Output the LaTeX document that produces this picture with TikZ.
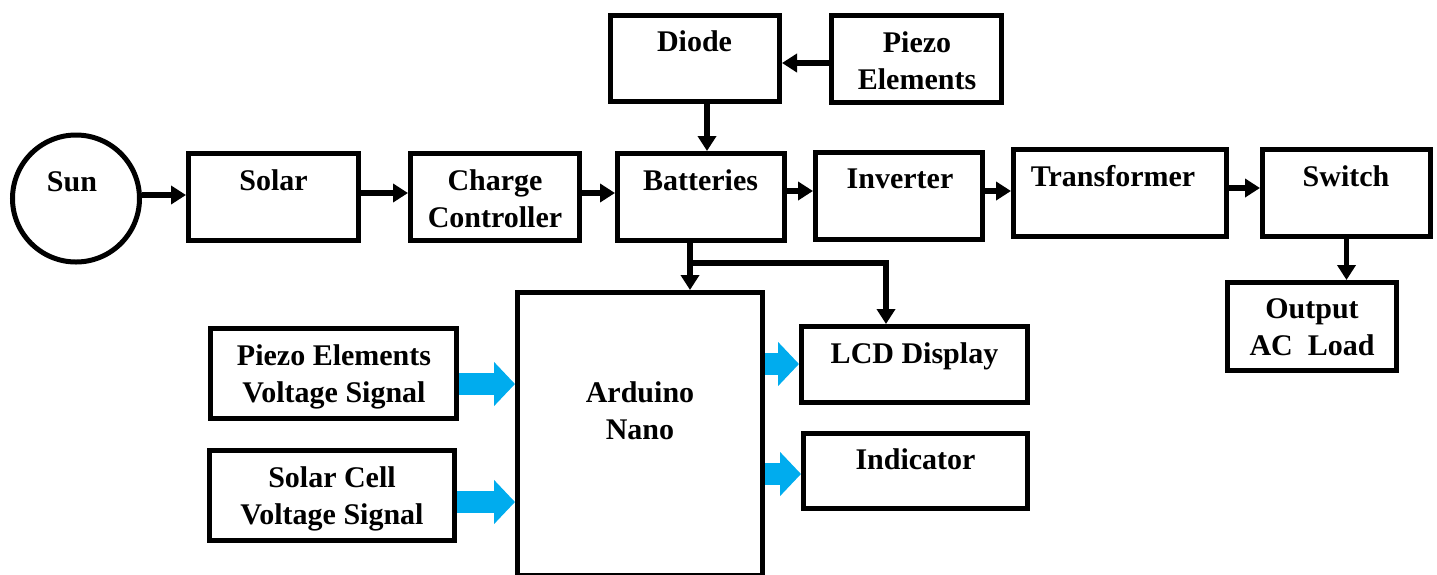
\documentclass[tikz,border=0pt]{standalone}
\usepackage{fontspec}
\setmainfont{Liberation Serif}
\usetikzlibrary{arrows.meta}
\definecolor{arrblue}{RGB}{0,172,238}
\newcommand{\twoline}[2]{\begin{tabular}[t]{@{}c@{}}#1\\#2\end{tabular}}
\begin{document}
\begin{tikzpicture}[x=1pt,y=-1pt,
  font=\fontsize{30}{37}\selectfont\bfseries,
  box/.style={draw, line width=5pt, fill=white, inner sep=0pt},
  sunshape/.style={draw, circle, line width=5pt, fill=white, inner sep=0pt, minimum size=127pt},
  arr/.style={line width=5.5pt, -{Triangle[width=18pt,length=15pt]}},
  barr/.style={draw=arrblue, line width=22pt, -{Triangle[width=43pt,length=21pt]}},
  lbl/.style={anchor=base, inner sep=0pt}]
\useasboundingbox (0,0) rectangle (1437,574);
% blocks
\node[sunshape] (sun) at (76,198.5) {};
\node[box, minimum width=170pt, minimum height=87pt] (solar) at (273.5,197) {};
\node[box, minimum width=169pt, minimum height=87pt] (charge) at (495,197) {};
\node[box, minimum width=167pt, minimum height=87pt] (batt) at (701,197) {};
\node[box, minimum width=169pt, minimum height=86pt] (diode) at (695,58.5) {};
\node[box, minimum width=170pt, minimum height=87pt] (piezo) at (916.5,59) {};
\node[box, minimum width=167pt, minimum height=87pt] (inv) at (899,196) {};
\node[box, minimum width=213pt, minimum height=87pt] (trans) at (1120,193) {};
\node[box, minimum width=168pt, minimum height=87pt] (switch) at (1346.5,193) {};
\node[box, minimum width=169pt, minimum height=88pt] (out) at (1312,326.5) {};
\node[box, minimum width=246pt, minimum height=90pt] (pev) at (333.5,373.5) {};
\node[box, minimum width=245pt, minimum height=90pt] (scv) at (332,495.5) {};
\node[box, minimum width=245pt, minimum height=282.5pt] (ard) at (640,433.75) {};
\node[box, minimum width=226pt, minimum height=76pt] (lcd) at (914.5,364.5) {};
\node[box, minimum width=224pt, minimum height=75pt] (ind) at (915.5,471) {};
% labels
\node[lbl] (t-sun) at (72,191) {Sun};
\node[lbl] (t-solar) at (273.5,190) {Solar};
\node[lbl] (t-charge) at (495,190) {\twoline{Charge}{Controller}};
\node[lbl] (t-batt) at (700.5,190) {Batteries};
\node[lbl] (t-diode) at (694.5,51) {Diode};
\node[lbl] (t-piezo) at (917,52) {\twoline{Piezo}{Elements}};
\node[lbl] (t-inv) at (900,188) {Inverter};
\node[lbl] (t-trans) at (1113,186) {Transformer};
\node[lbl] (t-switch) at (1346,186) {Switch};
\node[lbl] (t-out) at (1312,318) {\twoline{Output}{AC\ \ Load}};
\node[lbl] (t-pev) at (334,365) {\twoline{Piezo Elements}{Voltage Signal}};
\node[lbl] (t-scv) at (332,487) {\twoline{Solar Cell}{Voltage Signal}};
\node[lbl] (t-ard) at (640,402) {\twoline{Arduino}{Nano}};
\node[lbl] (t-lcd) at (914.5,363) {LCD Display};
\node[lbl] (t-ind) at (915.5,469) {Indicator};
% black connectors
\draw[arr] (sun.east |- 0,195) -- (solar.west |- 0,195);
\draw[arr] (solar.east |- 0,193) -- (charge.west |- 0,193);
\draw[arr] (charge.east |- 0,193) -- (batt.west |- 0,193);
\draw[arr] (batt.east |- 0,191) -- (inv.west |- 0,191);
\draw[arr] (inv.east |- 0,191) -- (trans.west |- 0,191);
\draw[arr] (trans.east |- 0,188) -- (switch.west |- 0,188);
\draw[arr] (piezo.west |- 0,63) -- (diode.east |- 0,63);
\draw[arr] (707,0 |- diode.south) -- (707,0 |- batt.north);
\draw[arr] (switch.south) -- (switch.south |- out.north);
\coordinate (brk) at (690,263);
\draw[arr] (690,0 |- batt.south) -- (690,0 |- ard.north);
\draw[arr] (brk) -| (886,0 |- lcd.north);
% blue signal arrows
\draw[barr] (pev.east |- 0,384) -- (ard.west |- 0,384);
\draw[barr] (scv.east |- 0,502) -- (ard.west |- 0,502);
\draw[barr] (ard.east |- 0,364) -- (lcd.west |- 0,364);
\draw[barr] (ard.east |- 0,474) -- (ind.west |- 0,474);
\end{tikzpicture}
\end{document}
